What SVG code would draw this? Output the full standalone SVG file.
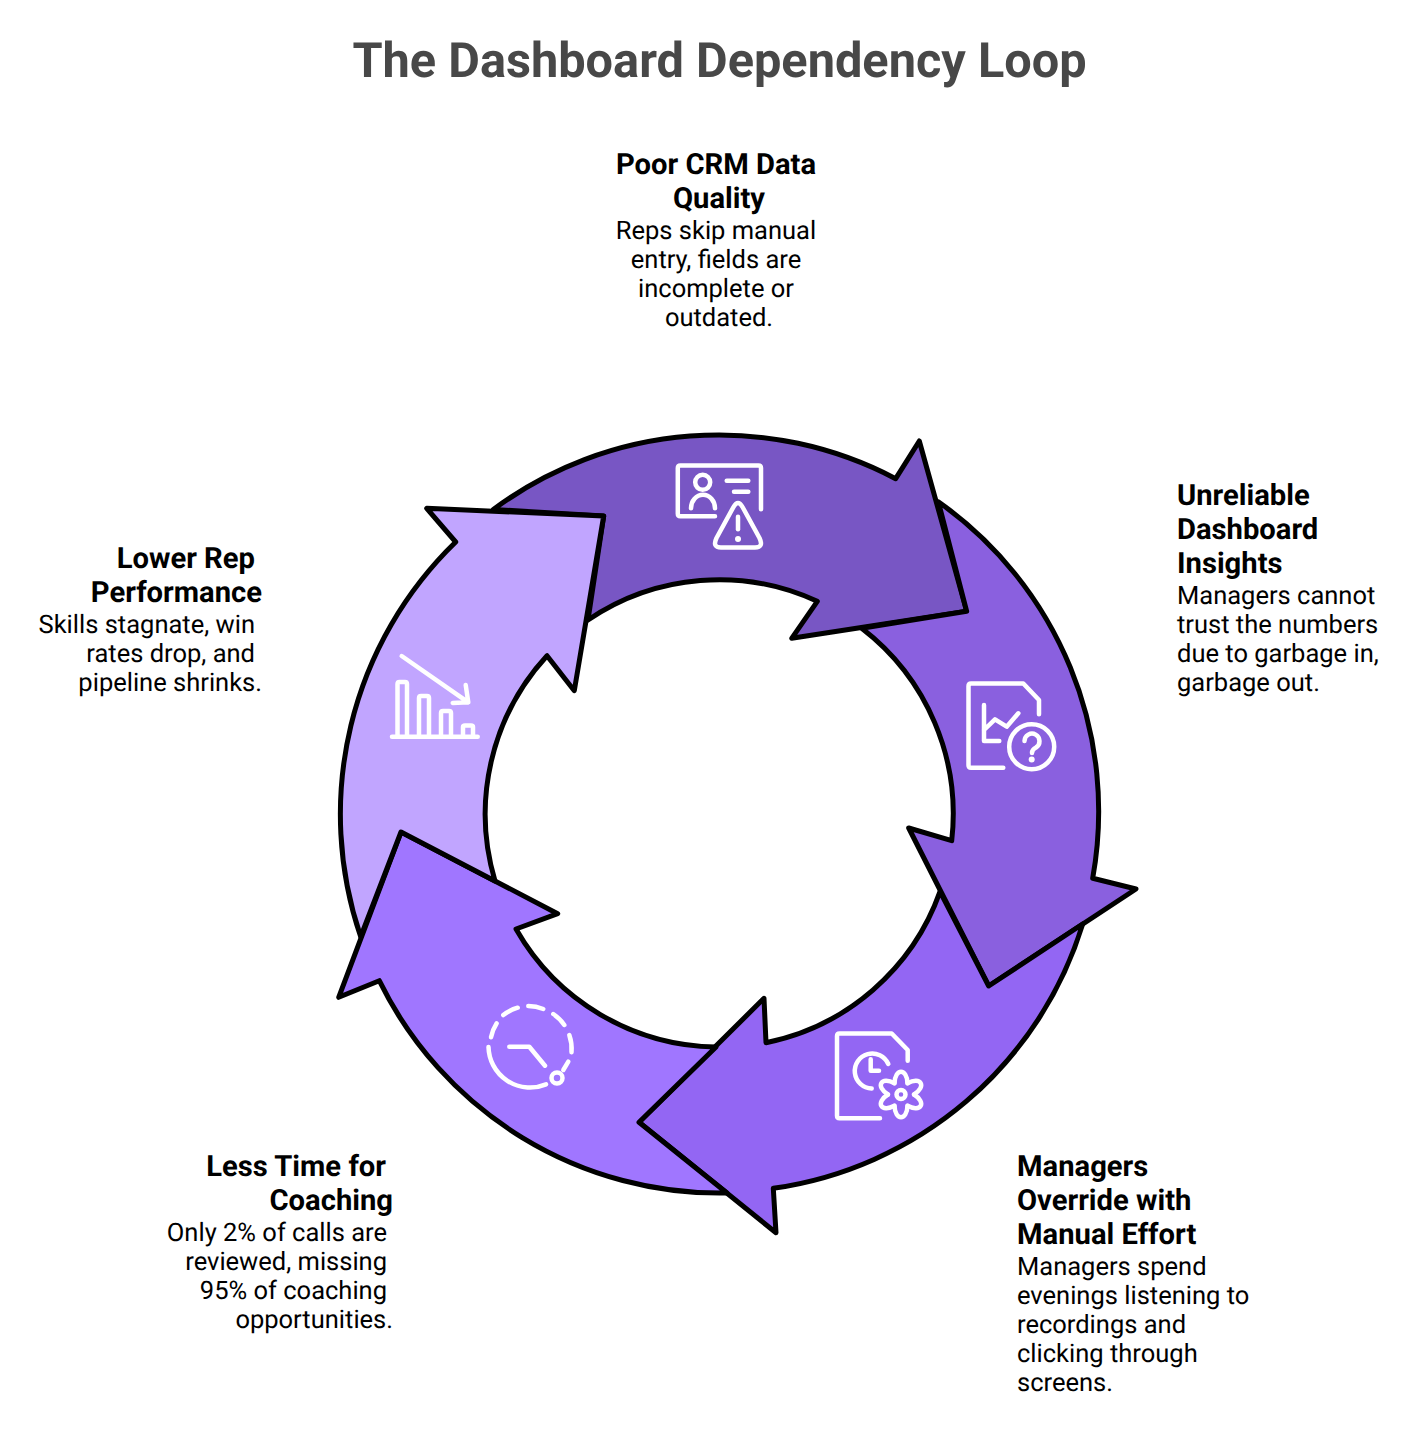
<svg xmlns="http://www.w3.org/2000/svg" xmlns:xlink="http://www.w3.org/1999/xlink" width="1418" height="1432" viewBox="0 0 1418 1432">
<style>
text{font-family:Roboto,"Liberation Sans",sans-serif;fill:#000;text-rendering:geometricPrecision}
.title{font-size:48.7px;font-weight:700;fill:#484848;text-anchor:middle}
.h{font-size:29.2px;font-weight:700}
.b{font-size:25.5px;font-weight:400}
.m{text-anchor:middle}.e{text-anchor:end}
.arrow{stroke:#000;stroke-width:5;stroke-linejoin:round}
.icon{fill:none;stroke:#fff;stroke-width:4.5;stroke-linecap:round;stroke-linejoin:round}
.dot{fill:#fff}
</style>
<defs><path id="lobe" d="M-6.5,-11.3C-6,-26.5 6,-26.5 6.5,-11.3"/></defs>
<rect width="1418" height="1432" fill="#fff"/>
<text class="title" x="719.5" y="77">The Dashboard Dependency Loop</text>
<g id="connectors">
<path class="arrow" fill="#7856c4" d="M493.3,509.5A379,379 0 0 1 895.7,478.7L919.3,441L966.7,611.3L791.7,638.3L817.3,601.3A234,234 0 0 0 588,620L603.7,516Z"/>
<path class="arrow" fill="#8a60df" d="M938.3,501.7A379,379 0 0 1 1092.7,878.3L1136,889L988.7,986L908.7,828L951.7,840.7A234,234 0 0 0 861.7,628.3L966.7,611.3Z"/>
<path class="arrow" fill="#9366f3" d="M1082.7,924A379,379 0 0 1 773.3,1188.3L776,1232.7L639,1122.3L764,998.3L766,1042.7A234,234 0 0 0 940,891.7L988.7,986Z"/>
<path class="arrow" fill="#a076ff" d="M727,1193A379,379 0 0 1 379.3,980.7L338.7,997.3L401,832L557.7,913.7L516,929A234,234 0 0 0 716,1047L639,1122.3Z"/>
<path class="arrow" fill="#c1a5ff" d="M360.7,936.7A379,379 0 0 1 455.7,542L426.7,508.3L603.7,516L574.3,690.7L547,655.7A234,234 0 0 0 495,881L401,832Z"/>
</g>
<g id="node-poor-crm">
<g class="icon">
<path d="M715,516.3H680.3Q677.8,516.3 677.8,513.8V468Q677.8,465.5 680.3,465.5H758.5Q761,465.5 761,468V509.3"/>
<circle cx="702.7" cy="482.3" r="7.5"/>
<path d="M691,508.3A12,13.5 0 0 1 715,508.3"/>
<path d="M726.7,480.7H748.3M734,491.7H748.3"/>
<path d="M733.5,507Q738,499 742.5,507L759.5,538Q764,547.5 755,547.5H721Q712,547.5 716.5,538Z"/>
<path d="M738,516.7V529.3"/>
</g>
<circle class="dot" cx="738" cy="539" r="3"/>
<text class="h m" x="716" y="174">Poor CRM Data</text>
<text class="h m" x="719" y="208">Quality</text>
<text class="b m" x="716" y="238.5">Reps skip manual</text>
<text class="b m" x="716" y="267.5">entry, fields are</text>
<text class="b m" x="716" y="296.5">incomplete or</text>
<text class="b m" x="719" y="325.5">outdated.</text>
</g>
<g id="node-unreliable">
<g class="icon">
<path d="M1003.3,767.7H971Q968.5,767.7 968.5,765.2V686Q968.5,683.5 971,683.5H1023.3L1039,700V714.3"/>
<path d="M984,705V741H999.3M984,730L995,719.3L1006.7,726.7L1018.3,713.3"/>
<circle cx="1031.7" cy="746.7" r="22.5"/>
<path d="M1024.5,741A7.5,7.5 0 1 1 1036,747.5Q1032,749.5 1032,753"/>
</g>
<circle class="dot" cx="1031.7" cy="759.5" r="3"/>
<text class="h" x="1177" y="505">Unreliable</text>
<text class="h" x="1177" y="539">Dashboard</text>
<text class="h" x="1177" y="573">Insights</text>
<text class="b" x="1177" y="603.5">Managers cannot</text>
<text class="b" x="1177" y="632.5">trust the numbers</text>
<text class="b" x="1177" y="661.5">due to garbage in,</text>
<text class="b" x="1177" y="690.5">garbage out.</text>
</g>
<g id="node-override">
<g class="icon">
<path d="M880,1118.3H839.5Q837,1118.3 837,1115.8V1036Q837,1033.5 839.5,1033.5H891.7L907.7,1050V1060.7"/>
<path d="M888.3,1064A17.5,17.5 0 1 0 871.7,1088.5"/>
<path d="M870.7,1059.3V1070.7H879"/>
<circle cx="901" cy="1094.5" r="4.5"/>
<g transform="translate(901 1094.5)">
<use xlink:href="#lobe" href="#lobe"/>
<use xlink:href="#lobe" href="#lobe" transform="rotate(60)"/>
<use xlink:href="#lobe" href="#lobe" transform="rotate(120)"/>
<use xlink:href="#lobe" href="#lobe" transform="rotate(180)"/>
<use xlink:href="#lobe" href="#lobe" transform="rotate(240)"/>
<use xlink:href="#lobe" href="#lobe" transform="rotate(300)"/>
</g>
</g>
<text class="h" x="1017" y="1176">Managers</text>
<text class="h" x="1017" y="1210">Override with</text>
<text class="h" x="1017" y="1244">Manual Effort</text>
<text class="b" x="1017" y="1274.5">Managers spend</text>
<text class="b" x="1017" y="1303.5">evenings listening to</text>
<text class="b" x="1017" y="1332.5">recordings and</text>
<text class="b" x="1017" y="1361.5">clicking through</text>
<text class="b" x="1017" y="1390.5">screens.</text>
</g>
<g id="node-less-time">
<g class="icon">
<path d="M546,1084.3A41.5,41.5 0 0 1 488.5,1047"/>
<path d="M491,1037.3A41.5,41.5 0 0 1 496.7,1023.3"/>
<path d="M503.3,1015A41.5,41.5 0 0 1 517.7,1007.7"/>
<path d="M528.3,1006A41.5,41.5 0 0 1 543.3,1009"/>
<path d="M553.3,1014A41.5,41.5 0 0 1 564.3,1025"/>
<path d="M569.3,1035A41.5,41.5 0 0 1 571.5,1052.3"/>
<path d="M568.3,1061.7L563.3,1070"/>
<circle cx="557" cy="1078" r="5.5"/>
<path d="M509.3,1046.7H529.3L545,1065.7"/>
</g>
<text class="h e" x="386" y="1176">Less Time for</text>
<text class="h e" x="393" y="1210">Coaching</text>
<text class="b e" x="387" y="1240.5">Only 2% of calls are</text>
<text class="b e" x="387" y="1269.5">reviewed, missing</text>
<text class="b e" x="387" y="1298.5">95% of coaching</text>
<text class="b e" x="393" y="1327.5">opportunities.</text>
</g>
<g id="node-lower-rep">
<g class="icon">
<path d="M392,736.7H477.7"/>
<path d="M397.5,736V684Q397.5,682 399.5,682H405Q407,682 407,684V736"/>
<path d="M419,736V698Q419,696 421,696H427Q429,696 429,698V736"/>
<path d="M441,736V713Q441,711 443,711H449Q451,711 451,713V736"/>
<path d="M463,736V727Q463,725.5 465,725.5H471Q473,725.5 473,727V736"/>
<path d="M401.7,656L468.3,702.3M465.7,685L468.3,702.3L452.7,703"/>
</g>
<text class="h e" x="255" y="568">Lower Rep</text>
<text class="h e" x="262" y="602">Performance</text>
<text class="b e" x="255" y="632.5">Skills stagnate, win</text>
<text class="b e" x="255" y="661.5">rates drop, and</text>
<text class="b e" x="262" y="690.5">pipeline shrinks.</text>
</g>
</svg>
